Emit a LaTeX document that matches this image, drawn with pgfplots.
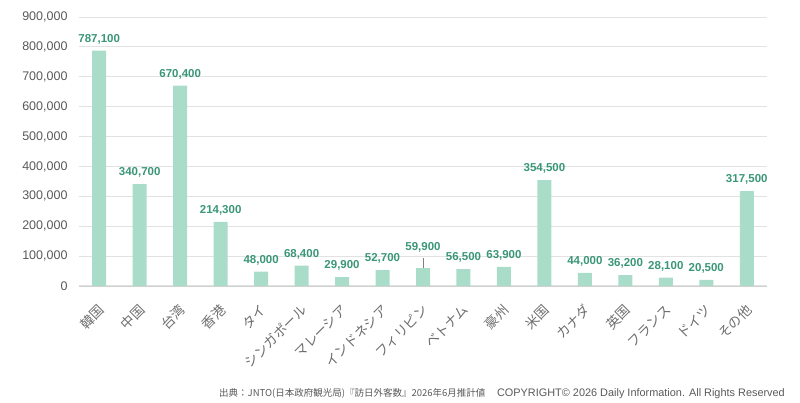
\documentclass[border=0pt]{standalone}
\usepackage{fontspec}
\setmainfont{Liberation Sans}
\newfontfamily\cjk{Noto Sans CJK JP}
\usepackage{pgfplots}
\pgfplotsset{compat=1.18}
\usepackage{pgfplotstable}
\definecolor{barc}{HTML}{A9DCC9}
\definecolor{labc}{HTML}{3A9678}
\definecolor{tickc}{HTML}{595959}
\definecolor{xtc}{HTML}{6E6E6E}
\definecolor{gridc}{HTML}{E2E2E2}
\definecolor{axc}{HTML}{D0D0D0}

\pgfplotstableread{
x y off
0 787100 0
1 340700 0
2 670400 0
3 214300 0
4 48000 0
5 68400 0
6 29900 0
7 52700 0
8 59900 9
9 56500 0
10 63900 0
11 354500 0
12 44000 0
13 36200 0
14 28100 0
15 20500 0
16 317500 0
}\data

\begin{document}
\begin{tikzpicture}[x=1pt,y=1pt]
\useasboundingbox (0,0) rectangle (800,403);
\begin{axis}[
  at={(79pt,117pt)}, anchor=south west,
  scale only axis, width=688pt, height=269pt,
  xmin=-0.5, xmax=16.5, ymin=0, ymax=900000,
  ybar, bar width=14pt,
  axis x line*=bottom, axis y line*=left,
  y axis line style={draw=none},
  x axis line style={draw=axc, line width=0.8pt},
  major tick length=0pt,
  ymajorgrids, grid style={draw=gridc, line width=1pt},
  ytick={0,100000,...,900000},
  scaled y ticks=false,
  /pgf/number format/assume math mode=true,
  /pgf/number format/fixed,
  /pgf/number format/1000 sep={,},
  yticklabel style={font=\fontsize{12.5}{13}\selectfont, color=tickc, xshift=-8pt},
  xtick={0,...,16},
  xticklabels={韓国,中国,台湾,香港,タイ,シンガポール,マレーシア,インドネシア,フィリピン,ベトナム,豪州,米国,カナダ,英国,フランス,ドイツ,その他},
  xticklabel style={xshift=5pt, yshift=-19pt, rotate=45, anchor=east, font=\cjk\fontsize{13.5}{14}\selectfont, color=xtc},
  nodes near coords,
  visualization depends on={\thisrow{off} \as \off},
  every node near coord/.append style={
    font=\bfseries\fontsize{11.5}{12}\selectfont, color=labc, yshift=3pt+\off pt},
  clip=false,
]
\addplot[fill=barc, draw=none] table[x=x, y=y] {\data};
\draw[gray, line width=0.6pt] (axis cs:8,59900) -- (axis cs:8,93000);
\end{axis}
\node[anchor=base west, font=\cjk\fontsize{9.5}{10}\selectfont, color=tickc, inner sep=0] at (219,6) {出典：JNTO(日本政府観光局)『訪日外客数』2026年6月推計値};
\node[anchor=base east, font=\fontsize{10.9}{11}\selectfont, color=tickc, inner sep=0] at (785,6) {COPYRIGHT© 2026 Daily Information. All Rights Reserved};
\end{tikzpicture}
\end{document}
